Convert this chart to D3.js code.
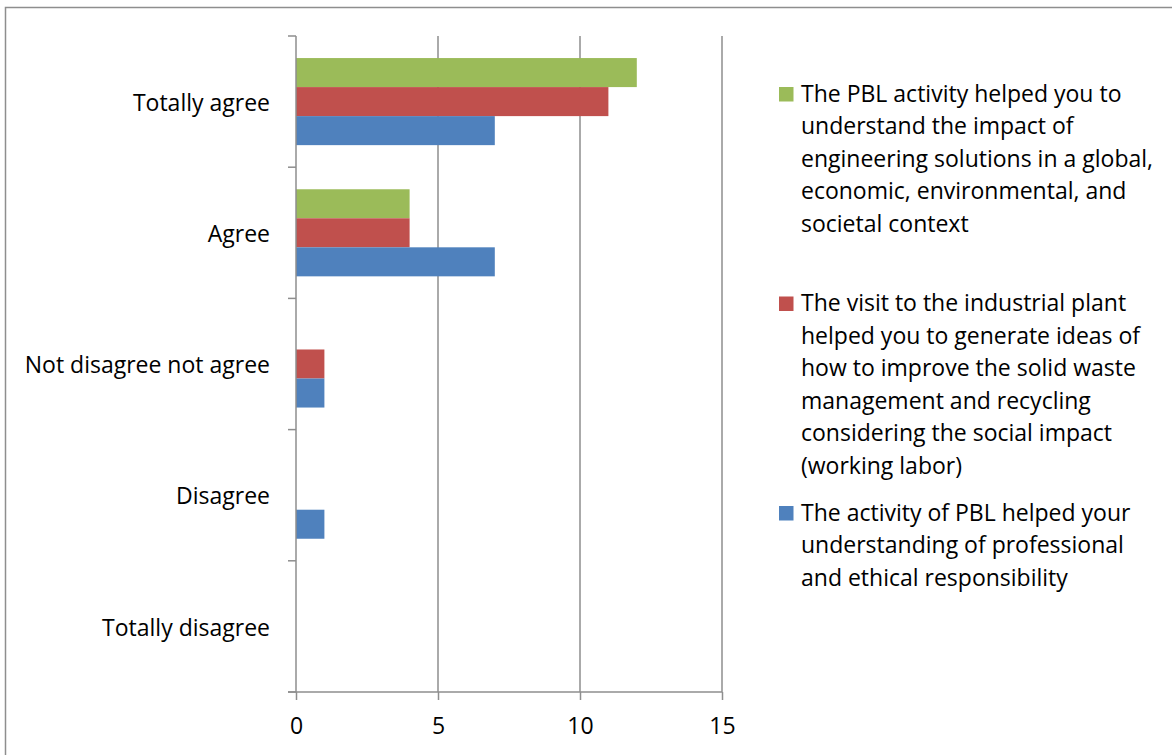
<!DOCTYPE html>
<html>
<head>
<meta charset="utf-8">
<script src="https://cdn.jsdelivr.net/npm/d3@7"></script>
<style>
  html, body { margin: 0; padding: 0; background: #fff; }
  svg { display: block; }
  text { font-family: "Open Sans", Lato, sans-serif; fill: #000; }
</style>
</head>
<body>
<svg id="chart" width="1172" height="755"></svg>
<script>
// Response categories, listed top to bottom
const categories = ["Totally agree", "Agree", "Not disagree not agree", "Disagree", "Totally disagree"];

// Number of answers per category for each statement
const seriesNames = ["ethics", "plant", "impact"];
const ethicsValues = [7, 7, 1, 1, 0];   // blue
const plantValues  = [11, 4, 1, 0, 0];  // red
const impactValues = [12, 4, 0, 0, 0];  // green

const xTicks = [0, 5, 10, 15];

// Legend texts, already broken into lines (top entry first)
const legendImpact = ["The PBL activity helped you to", "understand the impact of",
  "engineering solutions in a global,", "economic, environmental, and", "societal context"];
const legendPlant = ["The visit to the industrial plant", "helped you to generate ideas of",
  "how to improve the solid waste", "management and recycling",
  "considering the social impact", "(working labor)"];
const legendEthics = ["The activity of PBL helped your", "understanding of professional",
  "and ethical responsibility"];

const colors = { impact: "#9BBB59", plant: "#C0504D", ethics: "#4F81BD" };
const valuesBy = { impact: impactValues, plant: plantValues, ethics: ethicsValues };

const svg = d3.select("#chart");
const lineColor = "#8e8e8e";
const fontSize = 23;

// Chart frame
svg.append("rect")
  .attr("x", 5.5).attr("y", 7.5)
  .attr("width", 1300).attr("height", 900)
  .attr("fill", "none").attr("stroke", lineColor).attr("stroke-width", 1.5);

const plot = { left: 296, right: 722, top: 36, bottom: 692 };

const x = d3.scaleLinear().domain([0, 15]).range([plot.left, plot.right]);
const y = d3.scaleBand().domain(categories).range([plot.top, plot.bottom]).paddingInner(0);

// Bars inside each category: green on top, then red, then blue
const barOrder = ["impact", "plant", "ethics"];
const sub = d3.scaleBand().domain(barOrder).range([0, y.bandwidth()]).paddingInner(0).paddingOuter(0.76);

// Vertical gridlines
svg.append("g").selectAll("line")
  .data(xTicks.filter(t => t > 0))
  .join("line")
  .attr("x1", d => x(d)).attr("x2", d => x(d))
  .attr("y1", plot.top).attr("y2", plot.bottom)
  .attr("stroke", lineColor).attr("stroke-width", 1.5);

// Bars
const groups = svg.append("g").selectAll("g")
  .data(categories)
  .join("g")
  .attr("transform", d => `translate(0,${y(d)})`);

groups.selectAll("rect")
  .data((c, i) => barOrder.map(s => ({ s, v: valuesBy[s][i] })).filter(d => d.v > 0))
  .join("rect")
  .attr("x", x(0))
  .attr("y", d => sub(d.s))
  .attr("width", d => x(d.v) - x(0))
  .attr("height", sub.bandwidth())
  .attr("fill", d => colors[d.s]);

// Category axis (left)
const yAxisG = svg.append("g");
yAxisG.append("line")
  .attr("x1", plot.left).attr("x2", plot.left)
  .attr("y1", plot.top).attr("y2", plot.bottom)
  .attr("stroke", lineColor).attr("stroke-width", 1.5);
const boundaries = categories.map(c => y(c)).concat([plot.bottom]);
yAxisG.selectAll("line.tick")
  .data(boundaries)
  .join("line").attr("class", "tick")
  .attr("x1", plot.left - 8).attr("x2", plot.left)
  .attr("y1", d => d).attr("y2", d => d)
  .attr("stroke", lineColor).attr("stroke-width", 1.5);
yAxisG.selectAll("text")
  .data(categories)
  .join("text")
  .attr("x", 270)
  .attr("y", d => y(d) + y.bandwidth() / 2)
  .attr("dy", "0.4em")
  .attr("text-anchor", "end")
  .attr("font-size", fontSize)
  .text(d => d);

// Value axis (bottom)
const xAxisG = svg.append("g")
  .attr("transform", `translate(0,${plot.bottom})`)
  .call(d3.axisBottom(x).tickValues(xTicks).tickSize(8).tickPadding(18).tickSizeOuter(0));
xAxisG.select(".domain").remove();
xAxisG.insert("line", ":first-child")
  .attr("x1", plot.left - 8).attr("x2", plot.right)
  .attr("y1", 0).attr("y2", 0)
  .attr("stroke", lineColor).attr("stroke-width", 1.5);
xAxisG.selectAll(".tick line").attr("stroke", lineColor).attr("stroke-width", 1.5);
xAxisG.selectAll(".tick text")
  .attr("font-size", fontSize)
  .attr("font-family", "'Open Sans', Lato, sans-serif")
  .attr("fill", "#000");

// Legend
const legendEntries = [
  { s: "impact", lines: legendImpact },
  { s: "plant", lines: legendPlant },
  { s: "ethics", lines: legendEthics }
];
const legendX = 779, legendY0 = 91.5, entryStep = 209.5, lineStep = 32.5;
const leg = svg.append("g").selectAll("g")
  .data(legendEntries)
  .join("g")
  .attr("transform", (d, i) => `translate(${legendX},${legendY0 + i * entryStep})`);
leg.append("rect")
  .attr("x", 0).attr("y", -4.5)
  .attr("width", 14.5).attr("height", 14.5)
  .attr("fill", d => colors[d.s]);
leg.append("text")
  .attr("x", 22)
  .attr("font-size", fontSize)
  .selectAll("tspan")
  .data(d => d.lines)
  .join("tspan")
  .attr("x", 22)
  .attr("y", (l, i) => 2 + i * lineStep)
  .attr("dy", "0.35em")
  .text(l => l);
</script>
</body>
</html>
